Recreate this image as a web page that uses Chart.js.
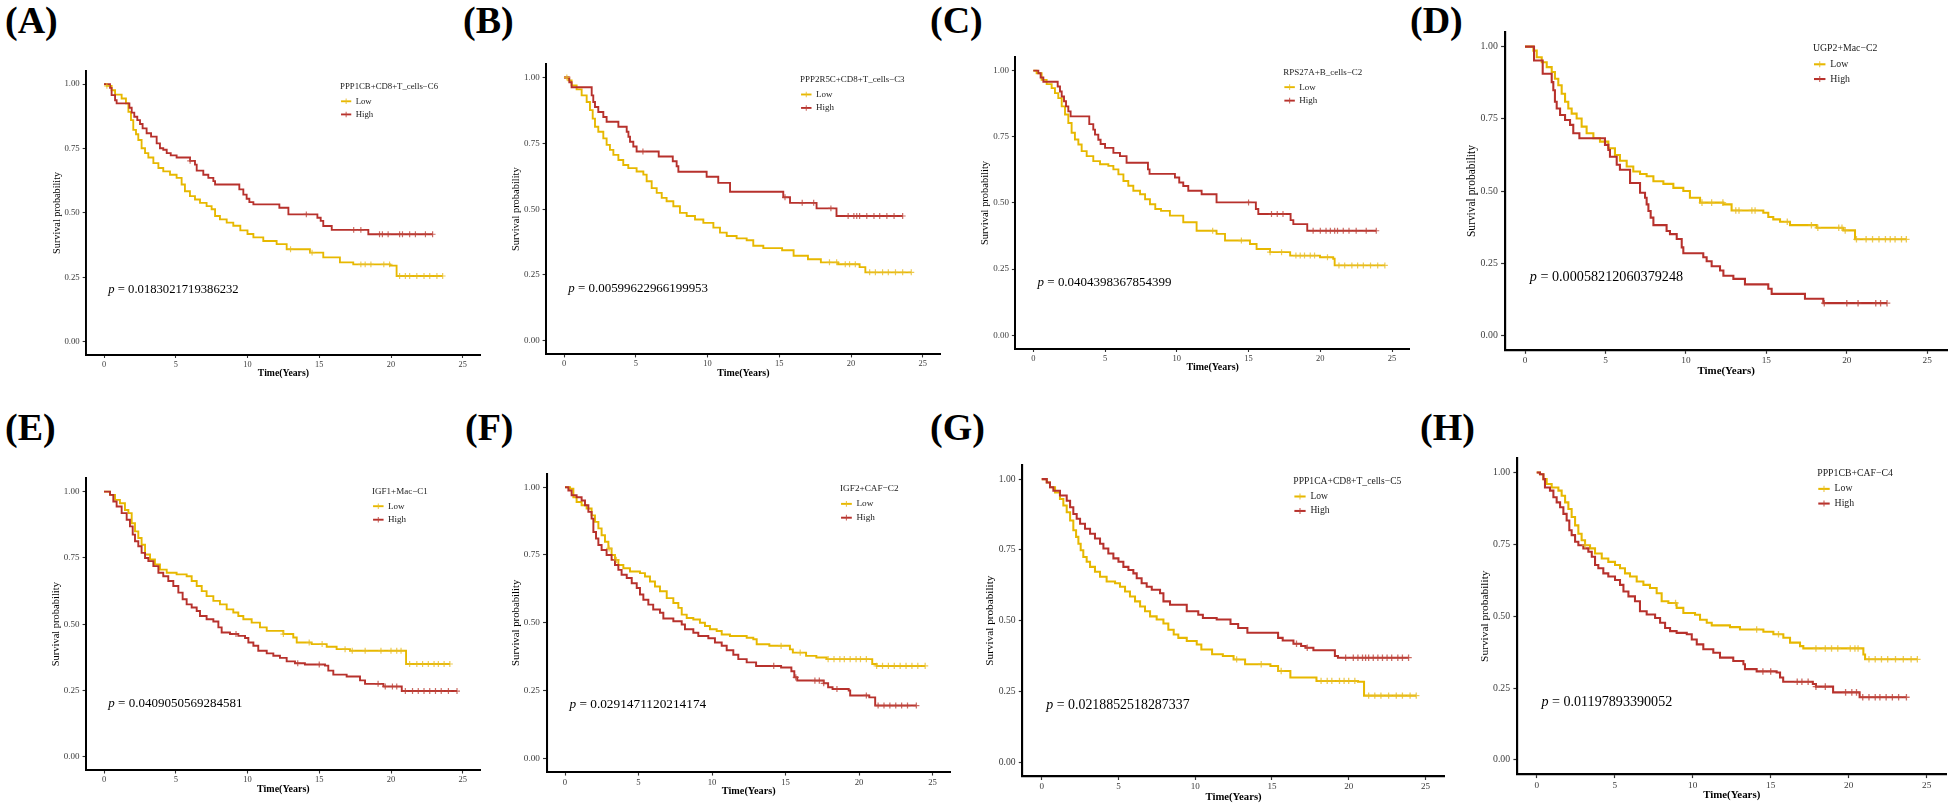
<!DOCTYPE html>
<html>
<head>
<meta charset="utf-8">
<script src="https://cdn.jsdelivr.net/npm/chart.js@4.4.1/dist/chart.umd.min.js"></script>
<style>
  html, body { margin: 0; padding: 0; background: #fff; }
  body { width: 1950px; height: 809px; position: relative; overflow: hidden; }
  canvas { position: absolute; }
  .tag { position: absolute; font: bold 38px "Liberation Serif", serif; color: #000; line-height: 1; }
</style>
</head>
<body>
<script>
// axis ranges and ticks
const XMIN = -1.25, XMAX = 26.25, YMIN = -0.05, YMAX = 1.05;
const X_TICKS = [0, 5, 10, 15, 20, 25];
const Y_TICKS = [0, 0.25, 0.5, 0.75, 1];

const GROUPS = ['Low', 'High'];
const GROUP_COLORS = ['#E7B800', '#B7312C'];
const CENSOR_COLORS = ['rgba(233,190,40,0.8)', 'rgba(190,70,60,0.8)'];

const PANEL_TAGS = ['(A)', '(B)', '(C)', '(D)', '(E)', '(F)', '(G)', '(H)'];
const MARKERS = ['PPP1CB+CD8+T_cells\u2212C6', 'PPP2R5C+CD8+T_cells\u2212C3', 'RPS27A+B_cells\u2212C2', 'UGP2+Mac\u2212C2',
                 'IGF1+Mac\u2212C1', 'IGF2+CAF\u2212C2', 'PPP1CA+CD8+T_cells\u2212C5', 'PPP1CB+CAF\u2212C4'];
const P_VALUES = ['0.0183021719386232', '0.00599622966199953', '0.0404398367854399', '0.00058212060379248',
                  '0.0409050569284581', '0.0291471120214174', '0.0218852518287337', '0.01197893390052'];

// KM curves: [time, survival after the drop]
const lowA = [[0,1],[0.19,0.993],[0.53,0.976],[0.77,0.959],[1.23,0.944],[1.53,0.925],[1.70,0.892],[1.88,0.860],[2.04,0.822],[2.23,0.805],[2.39,0.783],[2.62,0.751],[2.86,0.732],[3.09,0.715],[3.44,0.693],[3.79,0.674],[4.13,0.661],[4.60,0.648],[5.06,0.636],[5.41,0.610],[5.64,0.584],[5.99,0.565],[6.34,0.552],[6.69,0.539],[7.15,0.526],[7.50,0.514],[7.74,0.488],[8.08,0.475],[8.55,0.462],[9.01,0.450],[9.50,0.432],[10.0,0.418],[10.41,0.405],[11.1,0.391],[12.03,0.379],[12.73,0.359],[14.35,0.346],[15.28,0.327],[16.44,0.308],[17.37,0.300],[19.93,0.295],[20.39,0.255],[23.6,0.255]];
const highA = [[0,1],[0.42,0.985],[0.53,0.957],[0.77,0.937],[0.88,0.925],[1.77,0.908],[1.93,0.889],[2.11,0.873],[2.32,0.860],[2.51,0.845],[2.69,0.828],[2.97,0.809],[3.28,0.796],[3.67,0.770],[3.90,0.751],[4.13,0.745],[4.37,0.732],[4.65,0.723],[5.06,0.715],[6.0,0.702],[6.34,0.687],[6.46,0.664],[6.92,0.648],[7.27,0.636],[7.62,0.623],[7.74,0.610],[9.43,0.591],[9.71,0.571],[9.94,0.555],[10.13,0.542],[10.41,0.533],[12.22,0.520],[12.85,0.494],[14.87,0.481],[15.10,0.469],[15.28,0.449],[15.87,0.434],[18.42,0.417],[22.9,0.417]];
const lowCensA = [0.2, 13.0, 14.5, 17.9, 18.2, 18.6, 19.5, 19.9, 20.6, 21.0, 21.3, 21.8, 22.3, 22.7, 23.2, 23.6];
const highCensA = [6.0, 14.1, 17.4, 17.9, 19.2, 19.4, 19.8, 20.6, 20.8, 21.3, 21.7, 22.4, 22.9];

const lowB = [[0,1],[0.30,0.989],[0.53,0.970],[0.88,0.955],[1.23,0.932],[1.58,0.907],[1.81,0.876],[2.0,0.844],[2.16,0.813],[2.39,0.794],[2.74,0.769],[2.97,0.744],[3.2,0.725],[3.44,0.706],[3.79,0.687],[4.13,0.668],[4.48,0.656],[5.06,0.643],[5.53,0.631],[5.76,0.606],[6.11,0.580],[6.46,0.562],[6.81,0.543],[7.15,0.530],[7.62,0.511],[8.08,0.486],[8.55,0.474],[9.13,0.461],[9.71,0.448],[10.41,0.430],[10.87,0.411],[11.34,0.398],[12.03,0.389],[12.73,0.382],[13.19,0.361],[13.89,0.352],[15.2,0.344],[16.0,0.323],[17.0,0.310],[17.9,0.298],[19.1,0.291],[20.6,0.280],[21.0,0.260],[24.2,0.260]];
const highB = [[0,1],[0.37,0.982],[0.53,0.963],[1.93,0.932],[2.04,0.907],[2.16,0.888],[2.39,0.869],[2.74,0.850],[2.97,0.832],[3.79,0.813],[4.37,0.794],[4.49,0.775],[4.6,0.756],[4.83,0.738],[5.06,0.719],[6.6,0.700],[7.58,0.682],[7.85,0.663],[7.97,0.642],[9.94,0.623],[10.75,0.600],[11.57,0.566],[15.28,0.545],[15.75,0.524],[17.6,0.503],[18.99,0.474],[23.6,0.474]];
const lowCensB = [0.2, 18.5, 19.0, 19.6, 19.9, 20.3, 21.3, 21.7, 22.2, 22.6, 23.1, 23.6, 24.2];
const highCensB = [5.5, 15.4, 16.6, 17.4, 18.6, 19.8, 20.2, 20.4, 20.6, 21.1, 21.6, 22.0, 22.5, 23.0, 23.6];

const lowC = [[0,1],[0.23,0.99],[0.58,0.965],[0.93,0.949],[1.28,0.934],[1.51,0.915],[1.74,0.896],[1.98,0.865],[2.21,0.834],[2.44,0.802],[2.67,0.765],[2.9,0.740],[3.14,0.721],[3.37,0.696],[3.72,0.677],[4.18,0.658],[4.65,0.646],[5.23,0.640],[5.58,0.627],[5.93,0.608],[6.28,0.583],[6.62,0.565],[6.97,0.546],[7.44,0.533],[7.79,0.514],[8.13,0.495],[8.5,0.477],[8.9,0.47],[9.52,0.452],[10.45,0.427],[11.38,0.395],[12.77,0.383],[13.36,0.358],[15.1,0.345],[15.56,0.326],[16.5,0.314],[17.9,0.301],[19.98,0.295],[20.9,0.289],[21.0,0.264],[24.5,0.264]];
const highC = [[0,1],[0.35,0.99],[0.51,0.974],[0.7,0.958],[1.7,0.94],[1.86,0.921],[1.98,0.902],[2.14,0.884],[2.28,0.865],[2.44,0.846],[2.6,0.827],[3.9,0.798],[4.18,0.777],[4.3,0.758],[4.53,0.739],[4.69,0.723],[5.0,0.708],[5.58,0.689],[6.04,0.677],[6.5,0.652],[7.99,0.627],[8.1,0.61],[9.87,0.596],[10.17,0.577],[10.45,0.564],[10.8,0.546],[11.73,0.533],[12.77,0.502],[15.51,0.477],[15.68,0.458],[17.93,0.435],[18.12,0.420],[19.09,0.395],[23.9,0.395]];
const lowCensC = [12.5, 14.5, 16.5, 17.3, 18.3, 18.6, 18.9, 19.3, 19.6, 20.5, 21.3, 21.7, 22.2, 22.6, 23.0, 23.5, 24.0, 24.5];
const highCensC = [15.0, 16.6, 17.0, 17.4, 19.5, 20.0, 20.4, 20.7, 21.0, 21.2, 21.6, 22.0, 22.5, 23.2, 23.9];

const lowD = [[0,1],[0.52,0.986],[0.73,0.963],[1.04,0.946],[1.35,0.929],[1.66,0.912],[1.86,0.889],[2.07,0.866],[2.28,0.837],[2.49,0.809],[2.69,0.786],[2.9,0.768],[3.21,0.751],[3.52,0.723],[3.83,0.700],[4.25,0.683],[4.66,0.671],[5.18,0.648],[5.59,0.625],[5.9,0.605],[6.32,0.585],[6.73,0.568],[7.15,0.559],[7.56,0.551],[7.98,0.534],[8.6,0.525],[9.22,0.511],[9.84,0.500],[10.25,0.477],[10.88,0.460],[12.33,0.454],[12.84,0.433],[14.81,0.425],[15.12,0.410],[15.43,0.402],[15.85,0.394],[16.47,0.382],[18.13,0.373],[19.78,0.364],[20.51,0.333],[23.7,0.333]];
const highD = [[0,1],[0.56,0.952],[1.1,0.906],[1.66,0.877],[1.76,0.849],[1.86,0.809],[1.97,0.786],[2.18,0.763],[2.49,0.746],[2.8,0.729],[3.0,0.700],[3.38,0.683],[4.97,0.660],[5.18,0.642],[5.28,0.619],[5.7,0.591],[5.9,0.574],[6.53,0.528],[7.15,0.494],[7.46,0.477],[7.56,0.454],[7.67,0.431],[7.81,0.408],[7.98,0.382],[8.8,0.362],[9.01,0.351],[9.43,0.334],[9.74,0.305],[9.84,0.285],[11.08,0.271],[11.29,0.257],[11.6,0.240],[12.12,0.225],[12.33,0.207],[12.95,0.196],[13.67,0.177],[15.12,0.162],[15.33,0.144],[17.4,0.127],[18.54,0.112],[22.5,0.112]];
const lowCensD = [11.0, 11.6, 12.3, 13.1, 13.3, 14.1, 14.3, 16.3, 17.8, 18.2, 19.5, 19.7, 19.9, 20.6, 21.2, 21.6, 22.0, 22.4, 22.7, 23.0, 23.4, 23.7];
const highCensD = [18.6, 20.0, 20.7, 21.8, 22.1, 22.5];

const lowE = [[0,1],[0.42,0.988],[0.77,0.969],[1.11,0.956],[1.46,0.931],[1.7,0.919],[1.93,0.881],[2.16,0.85],[2.39,0.825],[2.62,0.80],[2.86,0.763],[3.21,0.744],[3.55,0.725],[3.9,0.706],[4.37,0.694],[5.06,0.688],[5.76,0.681],[6.11,0.663],[6.46,0.644],[6.81,0.625],[7.15,0.606],[7.62,0.588],[8.08,0.575],[8.55,0.556],[9.01,0.544],[9.36,0.531],[9.71,0.519],[10.29,0.506],[10.87,0.488],[11.34,0.475],[12.5,0.463],[13.19,0.45],[13.43,0.431],[14.47,0.425],[15.52,0.415],[16.21,0.406],[17.14,0.40],[21.05,0.35],[24.1,0.35]];
const highE = [[0,1],[0.42,0.988],[0.65,0.963],[0.88,0.944],[1.23,0.919],[1.58,0.894],[1.81,0.869],[2.0,0.838],[2.16,0.813],[2.39,0.794],[2.62,0.769],[2.86,0.750],[3.09,0.738],[3.44,0.719],[3.79,0.694],[4.13,0.681],[4.48,0.663],[4.83,0.644],[5.18,0.619],[5.48,0.594],[5.76,0.575],[6.11,0.563],[6.46,0.550],[6.69,0.531],[7.15,0.519],[7.62,0.510],[7.97,0.488],[8.2,0.469],[8.78,0.463],[9.36,0.456],[9.83,0.448],[10.06,0.431],[10.41,0.419],[10.75,0.400],[11.34,0.390],[11.8,0.381],[12.26,0.373],[12.73,0.360],[13.31,0.353],[14.0,0.348],[15.4,0.344],[15.63,0.325],[15.98,0.310],[16.91,0.303],[17.84,0.288],[18.19,0.275],[19.47,0.265],[20.75,0.248],[24.6,0.248]];
const lowCensE = [12.5, 14.3, 15.2, 16.8, 17.3, 18.2, 19.3, 20.0, 20.4, 20.7, 21.3, 21.8, 22.2, 22.6, 23.0, 23.3, 23.7, 24.1];
const highCensE = [9.2, 13.5, 15.0, 19.1, 19.6, 20.1, 20.4, 21.0, 21.5, 21.9, 22.3, 22.7, 23.1, 23.5, 24.0, 24.6];

const lowF = [[0,1],[0.34,0.994],[0.57,0.963],[0.79,0.945],[1.13,0.933],[1.47,0.921],[1.81,0.896],[2.04,0.872],[2.27,0.848],[2.49,0.823],[2.72,0.799],[2.95,0.774],[3.17,0.75],[3.4,0.732],[3.63,0.713],[3.97,0.701],[4.42,0.689],[5.1,0.683],[5.44,0.671],[5.78,0.652],[6.12,0.634],[6.46,0.616],[6.92,0.591],[7.37,0.573],[7.71,0.555],[7.94,0.530],[8.28,0.518],[8.73,0.512],[9.18,0.5],[9.52,0.488],[9.86,0.476],[10.32,0.470],[10.66,0.457],[11.22,0.451],[12.36,0.445],[12.81,0.439],[13.04,0.421],[13.9,0.415],[15.3,0.402],[15.5,0.39],[16.4,0.378],[17.1,0.372],[17.8,0.366],[20.9,0.348],[21.2,0.341],[24.5,0.341]];
const highF = [[0,1],[0.23,0.988],[0.45,0.970],[0.79,0.963],[1.13,0.951],[1.36,0.933],[1.59,0.909],[1.81,0.884],[1.93,0.835],[2.11,0.811],[2.27,0.787],[2.49,0.768],[2.83,0.75],[3.17,0.732],[3.4,0.713],[3.63,0.695],[3.85,0.677],[4.2,0.665],[4.54,0.646],[4.88,0.628],[5.1,0.604],[5.33,0.585],[5.67,0.567],[6.0,0.549],[6.46,0.537],[6.69,0.516],[7.37,0.506],[7.94,0.494],[8.16,0.476],[8.73,0.463],[9.07,0.451],[9.75,0.443],[10.2,0.427],[10.66,0.415],[11.0,0.399],[11.45,0.382],[11.79,0.366],[12.36,0.354],[13.0,0.341],[14.7,0.335],[15.4,0.321],[15.6,0.299],[15.8,0.287],[17.6,0.277],[17.9,0.262],[18.2,0.256],[19.3,0.25],[19.4,0.232],[20.7,0.225],[21.1,0.195],[23.9,0.195]];
const lowCensF = [3.0, 3.5, 14.7, 16.0, 17.9, 18.3, 18.7, 19.0, 19.4, 19.8, 20.1, 20.5, 21.2, 21.6, 22.0, 22.4, 22.8, 23.2, 23.6, 24.0, 24.5];
const highCensF = [14.2, 15.7, 17.0, 17.3, 17.6, 18.5, 20.5, 21.3, 21.7, 22.1, 22.5, 22.9, 23.3, 23.9];

const lowG = [[0,1],[0.33,0.988],[0.54,0.971],[0.87,0.953],[1.19,0.93],[1.41,0.907],[1.63,0.883],[1.85,0.854],[2.06,0.819],[2.24,0.796],[2.39,0.772],[2.54,0.749],[2.71,0.725],[2.93,0.708],[3.15,0.69],[3.47,0.673],[3.8,0.655],[4.23,0.638],[4.78,0.632],[5.1,0.62],[5.43,0.603],[5.75,0.585],[6.08,0.568],[6.41,0.55],[6.73,0.533],[7.06,0.515],[7.49,0.504],[7.93,0.49],[8.25,0.468],[8.6,0.451],[8.9,0.439],[9.45,0.428],[10.1,0.416],[10.4,0.398],[11.1,0.381],[11.8,0.375],[12.5,0.363],[13.25,0.346],[14.9,0.34],[15.4,0.322],[16.2,0.299],[17.9,0.287],[20.6,0.284],[21.0,0.235],[24.4,0.235]];
const highG = [[0,1],[0.33,0.988],[0.54,0.971],[0.76,0.959],[1.19,0.942],[1.63,0.924],[1.85,0.901],[2.06,0.877],[2.28,0.86],[2.5,0.842],[2.82,0.825],[3.15,0.807],[3.47,0.79],[3.8,0.772],[4.02,0.755],[4.34,0.737],[4.67,0.72],[5.0,0.708],[5.32,0.69],[5.65,0.679],[5.97,0.667],[6.19,0.65],[6.51,0.632],[6.84,0.62],[7.17,0.609],[7.71,0.597],[7.93,0.568],[8.36,0.556],[9.45,0.533],[10.2,0.521],[10.5,0.509],[11.4,0.504],[12.3,0.488],[12.8,0.474],[13.4,0.457],[15.4,0.439],[15.7,0.43],[16.4,0.418],[16.9,0.41],[17.2,0.404],[17.7,0.395],[19.1,0.375],[19.3,0.369],[23.9,0.369]];
const lowCensG = [12.7, 14.3, 15.6, 18.2, 18.6, 18.9, 19.4, 19.7, 20.0, 20.4, 21.3, 21.7, 22.1, 22.6, 23.1, 23.5, 24.0, 24.4];
const highCensG = [16.6, 17.3, 19.8, 20.3, 20.6, 20.9, 21.1, 21.3, 21.6, 21.9, 22.2, 22.5, 22.8, 23.2, 23.5, 23.9];

const lowH = [[0,1],[0.21,0.994],[0.43,0.977],[0.64,0.96],[0.96,0.948],[1.39,0.937],[1.6,0.919],[1.82,0.896],[2.03,0.873],[2.24,0.845],[2.46,0.816],[2.67,0.787],[2.88,0.764],[3.1,0.747],[3.42,0.736],[3.74,0.718],[4.17,0.701],[4.59,0.689],[5.02,0.678],[5.34,0.667],[5.66,0.649],[5.98,0.638],[6.41,0.621],[6.84,0.609],[7.26,0.598],[7.69,0.58],[8.01,0.552],[8.44,0.546],[8.97,0.529],[9.4,0.511],[10.15,0.505],[10.47,0.488],[10.9,0.477],[11.22,0.468],[12.39,0.462],[13.03,0.454],[14.53,0.446],[15.17,0.437],[15.81,0.425],[16.24,0.408],[16.88,0.396],[17.09,0.388],[20.94,0.367],[21.05,0.35],[24.4,0.35]];
const highH = [[0,1],[0.21,0.994],[0.43,0.977],[0.53,0.948],[0.85,0.937],[1.07,0.914],[1.28,0.896],[1.5,0.879],[1.71,0.856],[1.92,0.833],[2.09,0.799],[2.24,0.782],[2.46,0.759],[2.67,0.747],[2.99,0.736],[3.31,0.724],[3.53,0.707],[3.74,0.678],[3.95,0.667],[4.27,0.649],[4.59,0.638],[5.02,0.626],[5.34,0.609],[5.56,0.586],[5.88,0.569],[6.3,0.552],[6.62,0.517],[7.05,0.506],[7.59,0.494],[7.91,0.477],[8.23,0.459],[8.55,0.448],[8.97,0.442],[9.62,0.437],[9.94,0.419],[10.26,0.402],[10.68,0.385],[11.32,0.373],[11.75,0.356],[12.6,0.344],[13.25,0.333],[13.35,0.316],[14.1,0.308],[15.38,0.304],[15.6,0.287],[15.8,0.272],[17.7,0.264],[17.9,0.255],[19.0,0.235],[20.7,0.218],[23.7,0.218]];
const lowCensH = [3.1, 8.9, 14.1, 15.5, 17.9, 18.5, 18.9, 19.3, 20.1, 20.4, 20.6, 21.3, 21.7, 22.1, 22.5, 23.0, 23.5, 24.0, 24.4];
const highCensH = [14.5, 15.0, 16.7, 17.0, 17.4, 17.9, 18.5, 19.8, 20.2, 20.5, 20.9, 21.3, 21.7, 22.0, 22.4, 22.8, 23.2, 23.7];

const LOW = [lowA, lowB, lowC, lowD, lowE, lowF, lowG, lowH];
const HIGH = [highA, highB, highC, highD, highE, highF, highG, highH];
const LOW_CENS = [lowCensA, lowCensB, lowCensC, lowCensD, lowCensE, lowCensF, lowCensG, lowCensH];
const HIGH_CENS = [highCensA, highCensB, highCensC, highCensD, highCensE, highCensF, highCensG, highCensH];

// where each panel sits: pixel of t=0 / S=0, px per year, px per unit survival, legend offset, tag spot
const LAYOUT = [
  { x0: 104,    y0: 341.6, px: 14.35, u: 259.6, lx: 254,   ly: 16,   tx: 5,    ty: 1 },
  { x0: 564,    y0: 340.7, px: 14.35, u: 265.4, lx: 254,   ly: 15.7, tx: 463,  ty: 1 },
  { x0: 1033.3, y0: 335.2, px: 14.35, u: 266.2, lx: 268,   ly: 15.3, tx: 930,  ty: 1 },
  { x0: 1525,   y0: 335.4, px: 16.09, u: 291.1, lx: 308,   ly: 16.3, tx: 1410, ty: 1 },
  { x0: 104,    y0: 756.7, px: 14.35, u: 266.7, lx: 286,   ly: 13.3, tx: 5,    ty: 408 },
  { x0: 565,    y0: 758.3, px: 14.7,  u: 273.3, lx: 293.4, ly: 15.4, tx: 465,  ty: 408 },
  { x0: 1041.7, y0: 762,   px: 15.35, u: 285.3, lx: 270.8, ly: 16,   tx: 930,  ty: 408 },
  { x0: 1536.7, y0: 759.8, px: 15.6,  u: 289.8, lx: 300,   ly: 15,   tx: 1420, ty: 408 }
];

const FONT = '"Liberation Serif", "Times New Roman", serif';

function survAt(curve, t) {
  let s = curve[0][1];
  for (const [tt, ss] of curve) { if (tt <= t) s = ss; else break; }
  return s;
}

function makePanel(i) {
  const L = LAYOUT[i];
  const k = L.u / 266.7;

  const tag = document.createElement('div');
  tag.className = 'tag';
  tag.style.left = L.tx + 'px';
  tag.style.top = L.ty + 'px';
  tag.textContent = PANEL_TAGS[i];
  document.body.appendChild(tag);

  // chart area in page pixels
  const cl = L.x0 + XMIN * L.px, cr = L.x0 + XMAX * L.px;
  const ct = L.y0 - YMAX * L.u, cb = L.y0 - YMIN * L.u;
  const left = Math.floor(cl - 41 * k), top = Math.floor(ct - 6);
  const w = Math.ceil(cr + 6) - left, h = Math.round(cb + 28 * k) - top;
  const wy = cl - left, hx = top + h - cb;
  const padTop = ct - top, padRight = left + w - cr;

  const cv = document.createElement('canvas');
  cv.width = w; cv.height = h;
  cv.style.left = left + 'px'; cv.style.top = top + 'px';
  cv.style.width = w + 'px'; cv.style.height = h + 'px';
  document.body.appendChild(cv);

  const fsY = 10.5 * k, fsX = 10 * k;

  const overlay = {
    id: 'kmText',
    afterDatasetsDraw(chart) {
      const { ctx, chartArea: a, scales: { x, y } } = chart;
      ctx.save();
      ctx.textBaseline = 'middle';
      ctx.textAlign = 'left';
      // p value
      const fp = 13 * k;
      let px = x.getPixelForValue(0.3);
      const py = y.getPixelForValue(0.2);
      ctx.fillStyle = '#000';
      ctx.font = `italic ${fp}px ${FONT}`;
      ctx.fillText('p', px, py);
      px += ctx.measureText('p').width;
      ctx.font = `${fp}px ${FONT}`;
      ctx.fillText(' = ' + P_VALUES[i], px, py);
      // legend
      const lx = a.left + L.lx, ly = a.top + L.ly;
      ctx.font = `${9 * k}px ${FONT}`;
      ctx.fillStyle = '#1a1a1a';
      ctx.fillText(MARKERS[i], lx, ly);
      GROUPS.forEach((g, j) => {
        const yy = ly + (14.5 + 13.5 * j) * k;
        ctx.strokeStyle = GROUP_COLORS[j];
        ctx.lineWidth = 1.9 * k;
        ctx.beginPath(); ctx.moveTo(lx + 1 * k, yy); ctx.lineTo(lx + 11.5 * k, yy); ctx.stroke();
        ctx.strokeStyle = CENSOR_COLORS[j];
        ctx.lineWidth = 1.1 * k;
        ctx.beginPath(); ctx.moveTo(lx + 6.25 * k, yy - 2.8 * k); ctx.lineTo(lx + 6.25 * k, yy + 2.8 * k); ctx.stroke();
        ctx.fillStyle = '#1a1a1a';
        ctx.fillText(g, lx + 16 * k, yy);
      });
      ctx.restore();
    }
  };

  const curves = [LOW[i], HIGH[i]];
  const cens = [LOW_CENS[i], HIGH_CENS[i]];
  const datasets = [];
  curves.forEach((c, j) => {
    datasets.push({
      label: GROUPS[j],
      data: c.map(([t, s]) => ({ x: t, y: s })),
      stepped: true,
      borderColor: GROUP_COLORS[j],
      borderWidth: 1.9 * k,
      pointRadius: 0,
      fill: false,
      order: 2 - j
    });
    datasets.push({
      label: GROUPS[j] + ' censored',
      data: cens[j].map(t => ({ x: t, y: survAt(c, t) })),
      showLine: false,
      pointStyle: 'cross',
      pointRadius: 3 * k,
      pointBorderWidth: 1.2 * k,
      pointBorderColor: CENSOR_COLORS[j],
      pointBackgroundColor: CENSOR_COLORS[j],
      order: -j
    });
  });

  new Chart(cv, {
    type: 'line',
    data: { datasets },
    options: {
      responsive: false,
      animation: false,
      events: [],
      layout: { padding: { top: padTop, right: padRight, left: 0, bottom: 0 } },
      plugins: { legend: { display: false }, tooltip: { enabled: false } },
      scales: {
        x: {
          type: 'linear', min: XMIN, max: XMAX,
          afterBuildTicks: s => { s.ticks = X_TICKS.map(v => ({ value: v })); },
          afterFit: s => { s.height = hx; },
          grid: { display: true, drawOnChartArea: false, drawTicks: true, tickLength: 3.5 * k, tickWidth: 1.1 * k, tickColor: '#333' },
          border: { display: true, color: '#000', width: 2 * k },
          ticks: { font: { family: FONT, size: 8.5 * k }, color: '#3a3a3a', padding: 1.5 * k, maxRotation: 0, autoSkip: false },
          title: { display: true, text: 'Time(Years)', color: '#000',
                   font: { family: FONT, size: fsX, weight: 'bold' },
                   padding: { top: 0, bottom: hx - 19.3 * k - 0.6 * fsX } }
        },
        y: {
          min: YMIN, max: YMAX,
          afterBuildTicks: s => { s.ticks = Y_TICKS.map(v => ({ value: v })); },
          afterFit: s => { s.width = wy; },
          grid: { display: true, drawOnChartArea: false, drawTicks: true, tickLength: 3.5 * k, tickWidth: 1.1 * k, tickColor: '#333' },
          border: { display: true, color: '#000', width: 2 * k },
          ticks: { font: { family: FONT, size: 9 * k }, color: '#3a3a3a', padding: 3 * k,
                   callback: v => Number(v).toFixed(2) },
          title: { display: true, text: 'Survival probability', color: '#000',
                   font: { family: FONT, size: fsY },
                   padding: { top: wy - 30 * k - 0.6 * fsY, bottom: 0 } }
        }
      }
    },
    plugins: [overlay]
  });
}

for (let i = 0; i < LAYOUT.length; i++) makePanel(i);
</script>
</body>
</html>
